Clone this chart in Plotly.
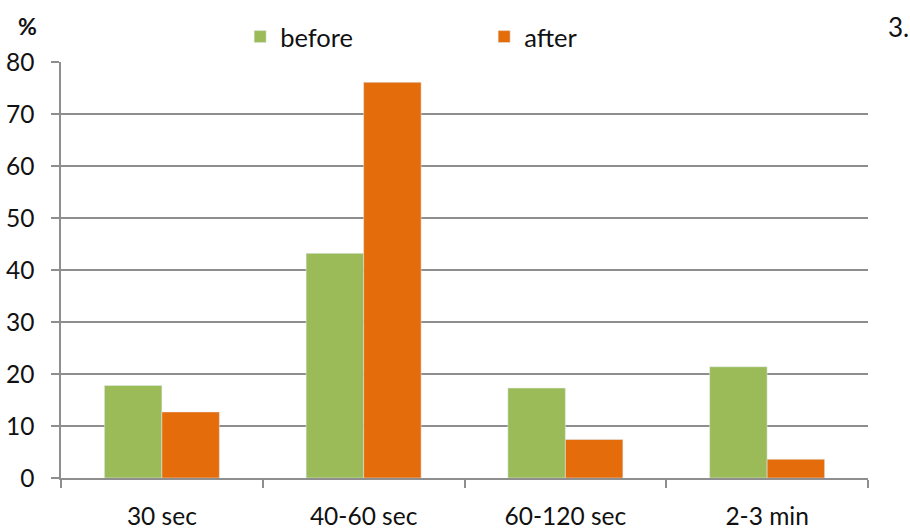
import plotly.graph_objects as go

categories = ["30 sec", "40-60 sec", "60-120 sec", "2-3 min"]
before = [17.8, 43.2, 17.3, 21.4]
after = [12.7, 76.1, 7.4, 3.6]

GREEN = "#9BBB59"
ORANGE = "#E46C0A"
GRID = "#8e8e8e"
FONT = "Lato"
FS = 24.5

fig = go.Figure()
fig.add_trace(go.Bar(name="before", x=categories, y=before, marker_color=GREEN))
fig.add_trace(go.Bar(name="after", x=categories, y=after, marker_color=ORANGE))

fig.update_layout(
    width=910,
    height=531,
    margin=dict(l=61, r=42, t=62, b=53),
    paper_bgcolor="white",
    plot_bgcolor="white",
    barmode="group",
    bargap=0.43,
    bargroupgap=0,
    font=dict(family=FONT, size=FS, color="#111111"),
    showlegend=True,
    legend=dict(
        orientation="h",
        x=0.222,
        y=1.06,
        xanchor="left",
        yanchor="middle",
        font=dict(size=FS + 1, family=FONT),
        itemwidth=30,
        entrywidth=199,
        entrywidthmode="pixels",
        bgcolor="rgba(0,0,0,0)",
    ),
    xaxis=dict(
        automargin=False,
        showgrid=False,
        showline=True,
        linecolor=GRID,
        linewidth=1.5,
        ticks="outside",
        tickson="boundaries",
        ticklen=8,
        tickcolor=GRID,
        tickwidth=1.5,
        ticklabelstandoff=16,
        tickfont=dict(size=FS, family=FONT),
    ),
    yaxis=dict(
        automargin=False,
        range=[0, 80],
        dtick=10,
        showgrid=True,
        gridcolor=GRID,
        gridwidth=1.5,
        showline=True,
        linecolor=GRID,
        linewidth=1.5,
        ticks="outside",
        ticklen=8,
        tickcolor=GRID,
        tickwidth=1.5,
        ticklabelstandoff=12,
        tickfont=dict(size=FS, family=FONT),
        zeroline=False,
    ),
    annotations=[
        dict(text="<b>%</b>", xref="paper", yref="paper", x=-0.042, y=1.087,
             xanchor="center", yanchor="middle", showarrow=False,
             font=dict(size=23, family=FONT, color="#111111")),
        dict(text="3.", xref="paper", yref="paper", x=1.022, y=1.083,
             xanchor="left", yanchor="middle", showarrow=False,
             font=dict(size=26, family=FONT, color="#111111")),
    ],
)

fig.write_html("out.html")
